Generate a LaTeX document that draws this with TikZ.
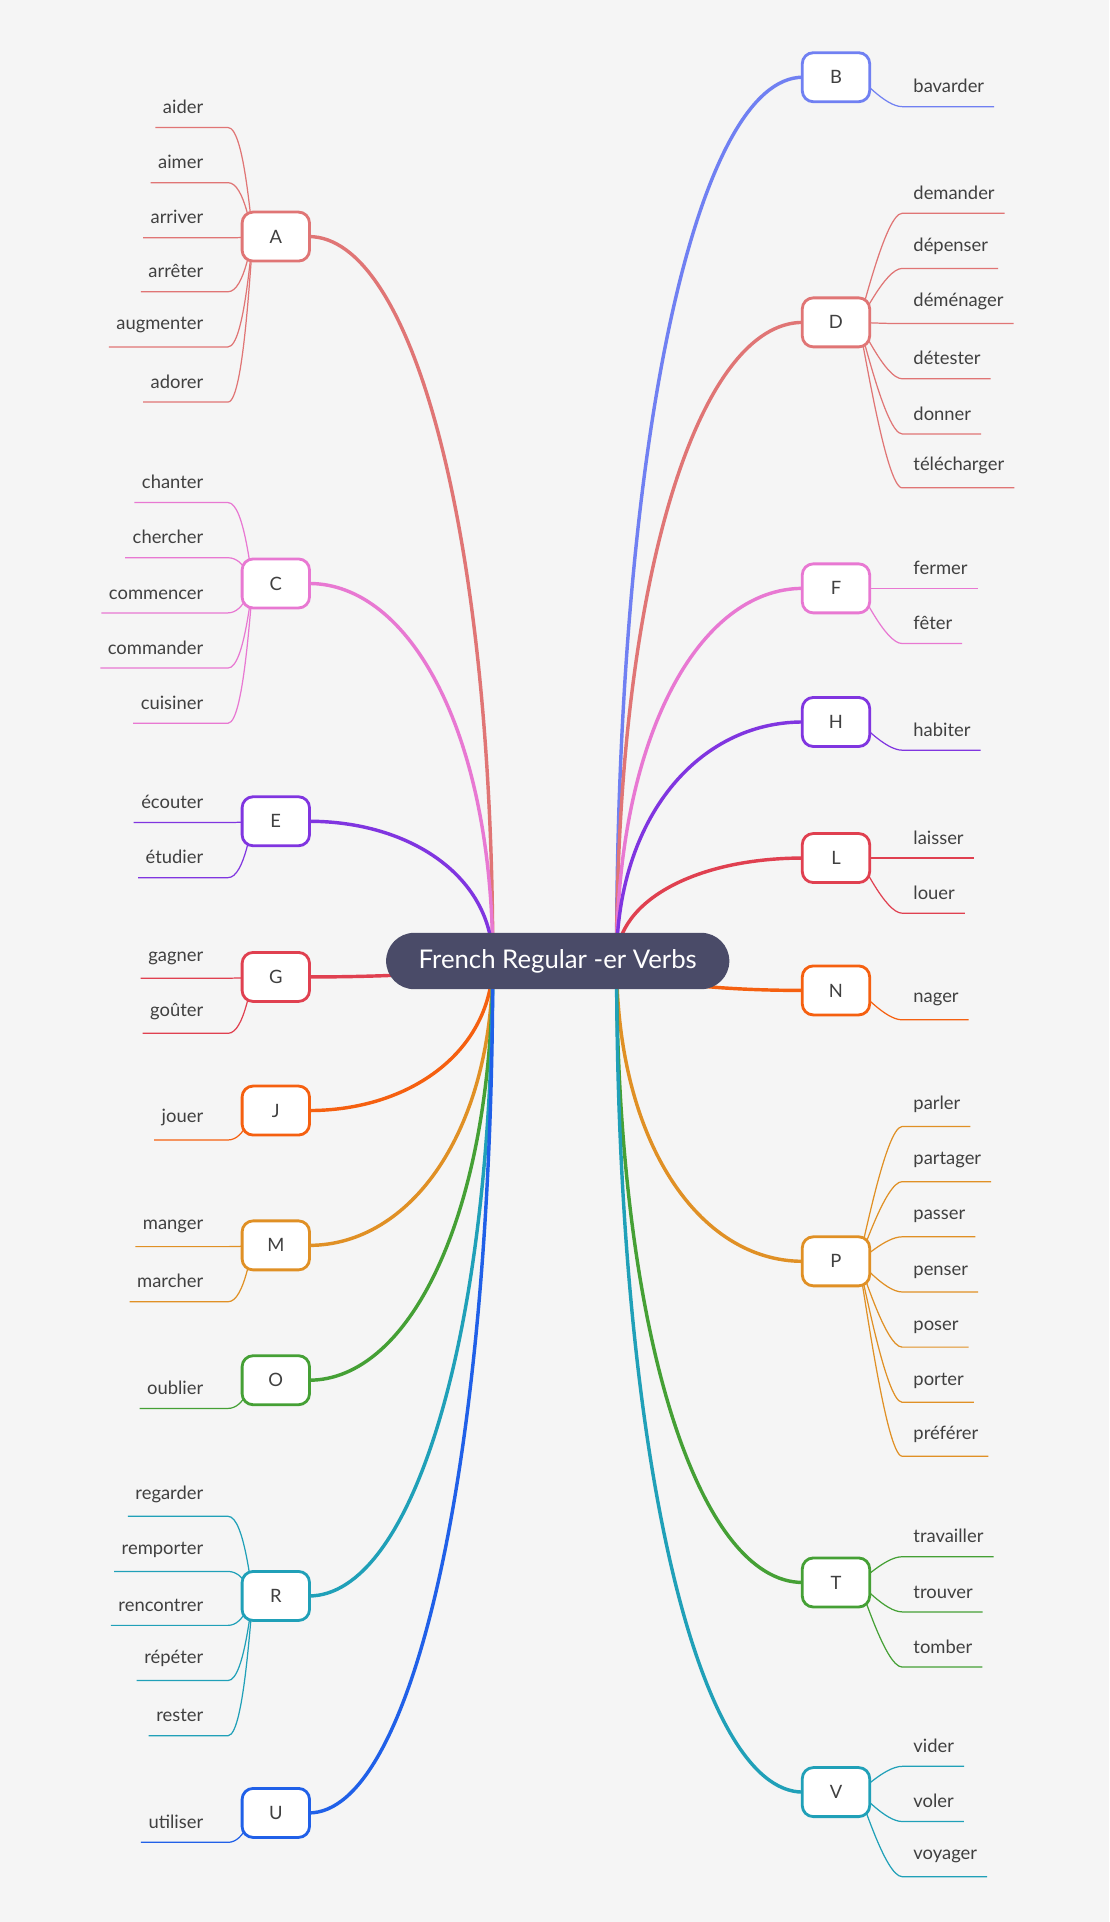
\documentclass[tikz,border=0pt]{standalone}
\usepackage{fontspec}
\setmainfont{Lato}
\begin{document}
\begin{tikzpicture}[x=1pt,y=-1pt,
 lbl/.style={font=\fontsize{15}{17}\selectfont,text=black!75,inner sep=2pt},
 letter/.style={draw,line width=2.3pt,rounded corners=9pt,fill=white,minimum width=55pt,minimum height=40pt,font=\fontsize{15}{17}\selectfont,text=black!75},
 main/.style={line width=2.8pt},
 leaf/.style={line width=1pt}]
\definecolor{cA}{HTML}{E07575}\definecolor{cB}{HTML}{7080F2}\definecolor{cC}{HTML}{E878D2}
\definecolor{cE}{HTML}{8035E0}\definecolor{cG}{HTML}{E04050}\definecolor{cJ}{HTML}{F56010}
\definecolor{cM}{HTML}{E09025}\definecolor{cO}{HTML}{45A035}\definecolor{cR}{HTML}{20A0B8}
\definecolor{cU}{HTML}{2060E8}\definecolor{bg}{HTML}{F5F5F5}\definecolor{ctr}{HTML}{4A4B68}
\fill[bg] (0,0) rectangle (905,1568);
\useasboundingbox (0,0) rectangle (905,1568);
\coordinate (cl) at (402,784);
\coordinate (cr) at (503,784);
\newcommand\LN[3]{\coordinate (#1) at (225,#2);}
\newcommand\RN[3]{\coordinate (#1) at (682,#2);}
\newcommand\LD[3]{\pgfmathsetmacro\ym{#2+0.4*(784-#2)}%
  \draw[main,#3] (cl) .. controls (402,\ym) and (335,#2) .. ([xshift=27pt]#1);}
\newcommand\RD[3]{\pgfmathsetmacro\ym{#2+0.4*(784-#2)}%
  \draw[main,#3] (cr) .. controls (503,\ym) and (570,#2) .. ([xshift=-27pt]#1);}
\newcommand\LB[3]{\node[letter,draw=#3] (#1b) at (#1) {#1};}
\newcommand\LL[4]{\node[lbl,anchor=south east] (t) at (168,#2-9) {#3};
  \draw[leaf,#4] ([shift={(-4pt,-9pt)}]t.south west) -- (186,#2) .. controls +(14,0) and ([xshift=-20pt]#1) .. ([xshift=-18pt]#1);}
\newcommand\RL[4]{\node[lbl,anchor=south west] (t) at (743,#2-9) {#3};
  \draw[leaf,#4] ([xshift=18pt]#1) .. controls ([xshift=20pt]#1) and +(-14,0) .. (736,#2) -- ([shift={(6pt,-9pt)}]t.south east);}
\LN{A}{193}{cA}\LN{C}{476}{cC}\LN{E}{670}{cE}\LN{G}{797}{cG}\LN{J}{906}{cJ}
\LN{M}{1016}{cM}\LN{O}{1126}{cO}\LN{R}{1302}{cR}\LN{U}{1479}{cU}
\RN{B}{63}{cB}\RN{D}{263}{cA}\RN{F}{480}{cC}\RN{H}{589}{cE}\RN{L}{700}{cG}
\RN{N}{808}{cJ}\RN{P}{1029}{cM}\RN{T}{1291}{cO}\RN{V}{1462}{cR}
\LD{A}{193}{cA}\LD{C}{476}{cC}\LD{E}{670}{cE}\LD{G}{797}{cG}\LD{J}{906}{cJ}
\LD{M}{1016}{cM}\LD{O}{1126}{cO}\LD{R}{1302}{cR}\LD{U}{1479}{cU}
\RD{B}{63}{cB}\RD{D}{263}{cA}\RD{F}{480}{cC}\RD{H}{589}{cE}\RD{L}{700}{cG}
\RD{N}{808}{cJ}\RD{P}{1029}{cM}\RD{T}{1291}{cO}\RD{V}{1462}{cR}
\LL{A}{104}{aider}{cA}\LL{A}{149}{aimer}{cA}\LL{A}{194}{arriver}{cA}
\LL{A}{238}{arrêter}{cA}\LL{A}{283}{augmenter}{cA}\LL{A}{328}{adorer}{cA}
\LL{C}{410}{chanter}{cC}\LL{C}{455}{chercher}{cC}\LL{C}{500}{commencer}{cC}
\LL{C}{545}{commander}{cC}\LL{C}{590}{cuisiner}{cC}
\LL{E}{671}{écouter}{cE}\LL{E}{716}{étudier}{cE}
\LL{G}{798}{gagner}{cG}\LL{G}{843}{goûter}{cG}
\LL{J}{930}{jouer}{cJ}
\LL{M}{1017}{manger}{cM}\LL{M}{1062}{marcher}{cM}
\LL{O}{1149}{oublier}{cO}
\LL{R}{1237}{regarder}{cR}\LL{R}{1282}{remporter}{cR}\LL{R}{1326}{rencontrer}{cR}
\LL{R}{1371}{répéter}{cR}\LL{R}{1416}{rester}{cR}
\LL{U}{1503}{utiliser}{cU}
\RL{B}{87}{bavarder}{cB}
\RL{D}{174}{demander}{cA}\RL{D}{219}{dépenser}{cA}\RL{D}{264}{déménager}{cA}
\RL{D}{309}{détester}{cA}\RL{D}{354}{donner}{cA}\RL{D}{398}{télécharger}{cA}
\RL{F}{480}{fermer}{cC}\RL{F}{525}{fêter}{cC}
\RL{H}{612}{habiter}{cE}
\RL{L}{700}{laisser}{cG}\RL{L}{745}{louer}{cG}
\RL{N}{832}{nager}{cJ}
\RL{P}{919}{parler}{cM}\RL{P}{964}{partager}{cM}\RL{P}{1009}{passer}{cM}
\RL{P}{1054}{penser}{cM}\RL{P}{1099}{poser}{cM}\RL{P}{1144}{porter}{cM}\RL{P}{1188}{préférer}{cM}
\RL{T}{1270}{travailler}{cO}\RL{T}{1315}{trouver}{cO}\RL{T}{1360}{tomber}{cO}
\RL{V}{1441}{vider}{cR}\RL{V}{1486}{voler}{cR}\RL{V}{1531}{voyager}{cR}
\LB{A}{}{cA}\LB{C}{}{cC}\LB{E}{}{cE}\LB{G}{}{cG}\LB{J}{}{cJ}
\LB{M}{}{cM}\LB{O}{}{cO}\LB{R}{}{cR}\LB{U}{}{cU}
\LB{B}{}{cB}\LB{D}{}{cA}\LB{F}{}{cC}\LB{H}{}{cE}\LB{L}{}{cG}
\LB{N}{}{cJ}\LB{P}{}{cM}\LB{T}{}{cO}\LB{V}{}{cR}
\node[fill=ctr,rounded corners=23pt,minimum width=280pt,minimum height=46pt,text=white,font=\fontsize{21}{24}\selectfont] (center) at (455,784) {French Regular -er Verbs};
\end{tikzpicture}
\end{document}
